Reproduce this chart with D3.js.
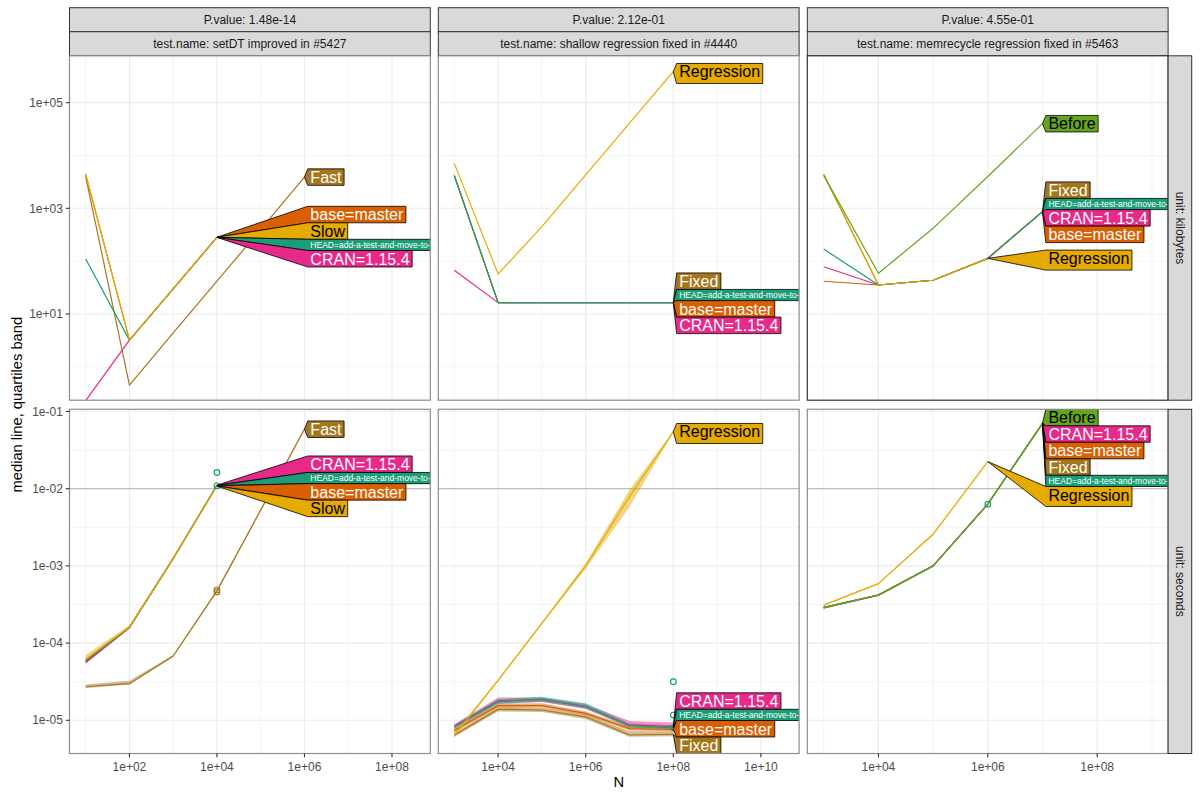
<!DOCTYPE html>
<html><head><meta charset="utf-8">
<script src="https://cdn.jsdelivr.net/npm/d3@7"></script>
<style>
body{margin:0;background:#fff}
svg{display:block}
text{font-family:"Liberation Sans",Arial,Helvetica,sans-serif}
</style>
</head><body>
<svg id="c" width="1200" height="800"></svg>
<script>
// ---------------- DATA ----------------
const testNames = ["setDT improved in #5427", "shallow regression fixed in #4440", "memrecycle regression fixed in #5463"];
const pValues = ["1.48e-14", "2.12e-01", "4.55e-01"];
const units = ["kilobytes", "seconds"];
const HEAD = "HEAD=add-a-test-and-move-to-";
const xTickLabels = [["1e+02","1e+04","1e+06","1e+08"],["1e+04","1e+06","1e+08","1e+10"],["1e+04","1e+06","1e+08"]];
const yTickLabelsKB = ["1e+01","1e+03","1e+05"];
const yTickLabelsSec = ["1e-05","1e-04","1e-03","1e-02","1e-01"];
const secondsLimit = 0.01;

// test 1: setDT improved in #5427
const setdtN = [1e1, 1e2, 1e3, 1e4];
const setdtFastN = [1e1, 1e2, 1e3, 1e4, 1e5, 1e6];
const setdtKbCran = [0.23, 3.2, 30, 281];
const setdtKbBase = [4400, 3.2, 30, 284];
const setdtKbFast = [4000, 0.45, 4.4, 42, 400, 3900];
const setdtKbHead = [110, 3.2, 30, 282];
const setdtKbSlow = [4450, 3.2, 30, 283];
const setdtSecCran = [5.6e-5, 1.58e-4, 1.24e-3, 0.0111];
const setdtSecCranQ1 = [5.4e-5, 1.55e-4, 1.22e-3, 0.0109];
const setdtSecCranQ3 = [5.9e-5, 1.62e-4, 1.27e-3, 0.0113];
const setdtSecBase = [5.9e-5, 1.6e-4, 1.25e-3, 0.0109];
const setdtSecBaseQ1 = [5.7e-5, 1.57e-4, 1.23e-3, 0.0107];
const setdtSecBaseQ3 = [6.3e-5, 1.64e-4, 1.28e-3, 0.0111];
const setdtSecFast = [2.72e-5, 2.98e-5, 6.8e-5, 4.75e-4, 5.3e-3, 0.0589];
const setdtSecFastQ1 = [2.62e-5, 2.9e-5, 6.6e-5, 4.6e-4, 5.1e-3, 0.057];
const setdtSecFastQ3 = [2.9e-5, 3.25e-5, 7.0e-5, 4.9e-4, 5.5e-3, 0.061];
const setdtSecHead = [5.8e-5, 1.6e-4, 1.25e-3, 0.0110];
const setdtSecHeadQ1 = [5.6e-5, 1.57e-4, 1.23e-3, 0.0108];
const setdtSecHeadQ3 = [6.1e-5, 1.63e-4, 1.27e-3, 0.0112];
const setdtSecSlow = [6.2e-5, 1.62e-4, 1.25e-3, 0.0108];
const setdtSecSlowQ1 = [5.9e-5, 1.58e-4, 1.22e-3, 0.0106];
const setdtSecSlowQ3 = [7.0e-5, 1.7e-4, 1.3e-3, 0.0111];
const setdtPtExpr = [HEAD, HEAD, "Fast", "Fast"];
const setdtPtN = [1e4, 1e4, 1e4, 1e4];
const setdtPtSec = [0.0162, 0.0109, 4.9e-4, 4.6e-4];

// test 2: shallow regression fixed in #4440
const shallowN = [1e3, 1e4, 1e5, 1e6, 1e7, 1e8];
const shallowKbCran = [67, 16.4, 16.4, 16.4, 16.4, 16.40];
const shallowKbBase = [4170, 16.4, 16.4, 16.4, 16.4, 16.41];
const shallowKbFixed = [4170, 16.4, 16.4, 16.4, 16.4, 16.43];
const shallowKbHead = [4170, 16.4, 16.4, 16.4, 16.4, 16.42];
const shallowKbRegression = [7100, 57, 450, 4300, 41000, 385000];
const shallowSecCran = [8.4e-6, 1.78e-5, 1.85e-5, 1.5e-5, 8.7e-6, 8.3e-6];
const shallowSecCranQ1 = [7.9e-6, 1.65e-5, 1.72e-5, 1.4e-5, 8.1e-6, 7.8e-6];
const shallowSecCranQ3 = [8.9e-6, 1.98e-5, 1.98e-5, 1.62e-5, 9.8e-6, 9.4e-6];
const shallowSecBase = [7.4e-6, 1.55e-5, 1.55e-5, 1.23e-5, 7.8e-6, 7.6e-6];
const shallowSecBaseQ1 = [7.0e-6, 1.48e-5, 1.48e-5, 1.17e-5, 7.4e-6, 7.2e-6];
const shallowSecBaseQ3 = [7.9e-6, 1.65e-5, 1.66e-5, 1.3e-5, 8.3e-6, 8.1e-6];
const shallowSecFixed = [6.4e-6, 1.39e-5, 1.36e-5, 1.11e-5, 6.45e-6, 6.6e-6];
const shallowSecFixedQ1 = [6.1e-6, 1.3e-5, 1.28e-5, 1.04e-5, 6.1e-6, 6.2e-6];
const shallowSecFixedQ3 = [6.9e-6, 1.5e-5, 1.47e-5, 1.2e-5, 7.2e-6, 7.2e-6];
const shallowSecHead = [8.2e-6, 1.75e-5, 1.88e-5, 1.52e-5, 8.5e-6, 8.0e-6];
const shallowSecHeadQ1 = [7.8e-6, 1.63e-5, 1.74e-5, 1.42e-5, 8.0e-6, 7.6e-6];
const shallowSecHeadQ3 = [8.7e-6, 1.88e-5, 2.02e-5, 1.66e-5, 9.1e-6, 8.6e-6];
const shallowSecRegression = [6.4e-6, 3.3e-5, 1.8e-4, 1.0e-3, 7.9e-3, 0.0547];
const shallowSecRegressionQ1 = [6.0e-6, 3.2e-5, 1.75e-4, 9.2e-4, 5.8e-3, 0.053];
const shallowSecRegressionQ3 = [6.9e-6, 3.4e-5, 1.87e-4, 1.08e-3, 9.6e-3, 0.056];
const shallowPtExpr = [HEAD, HEAD, HEAD];
const shallowPtN = [1e8, 1e8, 1e8];
const shallowPtSec = [3.16e-5, 1.17e-5, 8.0e-6];

// test 3: memrecycle regression fixed in #5463
const memN = [1e3, 1e4, 1e5, 1e6, 1e7];
const memRegN = [1e3, 1e4, 1e5, 1e6];
const memKbCran = [78.5, 35.4, 43.5, 113, 866];
const memKbBase = [41.6, 35.4, 43.5, 113, 865];
const memKbFixed = [4300, 35.4, 43.5, 113, 868];
const memKbHead = [170, 35.4, 43.5, 113, 867];
const memKbRegression = [4470, 35.4, 43.5, 113];
const memKbBefore = [4200, 59, 418, 4000, 40000];
const memSecCran = [2.85e-4, 4.15e-4, 1.0e-3, 6.3e-3, 0.0703];
const memSecCranQ1 = [2.8e-4, 4.1e-4, 0.98e-3, 6.2e-3, 0.0695];
const memSecCranQ3 = [2.95e-4, 4.25e-4, 1.02e-3, 6.4e-3, 0.071];
const memSecBase = [2.85e-4, 4.2e-4, 1.0e-3, 6.35e-3, 0.0701];
const memSecBaseQ1 = [2.8e-4, 4.1e-4, 0.98e-3, 6.25e-3, 0.0695];
const memSecBaseQ3 = [2.9e-4, 4.3e-4, 1.02e-3, 6.45e-3, 0.0708];
const memSecFixed = [2.9e-4, 4.2e-4, 1.0e-3, 6.3e-3, 0.0699];
const memSecFixedQ1 = [2.85e-4, 4.15e-4, 0.99e-3, 6.2e-3, 0.069];
const memSecFixedQ3 = [2.95e-4, 4.25e-4, 1.01e-3, 6.4e-3, 0.0705];
const memSecHead = [2.88e-4, 4.2e-4, 1.0e-3, 6.3e-3, 0.0697];
const memSecHeadQ1 = [2.83e-4, 4.15e-4, 0.99e-3, 6.2e-3, 0.069];
const memSecHeadQ3 = [2.93e-4, 4.25e-4, 1.01e-3, 6.4e-3, 0.0705];
const memSecRegression = [3.1e-4, 5.9e-4, 2.57e-3, 0.0224];
const memSecRegressionQ1 = [3.05e-4, 5.8e-4, 2.5e-3, 0.022];
const memSecRegressionQ3 = [3.15e-4, 6.0e-4, 2.65e-3, 0.0228];
const memSecBefore = [2.9e-4, 4.2e-4, 1.0e-3, 6.3e-3, 0.0705];
const memSecBeforeQ1 = [2.85e-4, 4.1e-4, 0.98e-3, 6.2e-3, 0.0698];
const memSecBeforeQ3 = [2.95e-4, 4.3e-4, 1.02e-3, 6.4e-3, 0.0712];
const memPtExpr = [HEAD];
const memPtN = [1e6];
const memPtSec = [6.3e-3];

// ---------------- STYLE ----------------
const exprColor = {"CRAN=1.15.4":"#E7298A","base=master":"#D95F02","Fixed":"#A6761D","Fast":"#A6761D",
  [HEAD]:"#1B9E77","Slow":"#E6AB02","Regression":"#E6AB02","Before":"#66A61E"};
const exprText = {"CRAN=1.15.4":"#fff","base=master":"#fff","Fixed":"#fff","Fast":"#fff",
  [HEAD]:"#fff","Slow":"#000","Regression":"#000","Before":"#000"};

// assemble (draw order: first drawn first)
const tests = [
 {name:testNames[0], p:pValues[0], series:[
   {expr:"CRAN=1.15.4", N:setdtN, kb:setdtKbCran, sec:setdtSecCran, q1:setdtSecCranQ1, q3:setdtSecCranQ3},
   {expr:"base=master", N:setdtN, kb:setdtKbBase, sec:setdtSecBase, q1:setdtSecBaseQ1, q3:setdtSecBaseQ3},
   {expr:"Fast", N:setdtFastN, kb:setdtKbFast, sec:setdtSecFast, q1:setdtSecFastQ1, q3:setdtSecFastQ3},
   {expr:HEAD, N:setdtN, kb:setdtKbHead, sec:setdtSecHead, q1:setdtSecHeadQ1, q3:setdtSecHeadQ3},
   {expr:"Slow", N:setdtN, kb:setdtKbSlow, sec:setdtSecSlow, q1:setdtSecSlowQ1, q3:setdtSecSlowQ3}],
  pts:{expr:setdtPtExpr, N:setdtPtN, sec:setdtPtSec}},
 {name:testNames[1], p:pValues[1], series:[
   {expr:"CRAN=1.15.4", N:shallowN, kb:shallowKbCran, sec:shallowSecCran, q1:shallowSecCranQ1, q3:shallowSecCranQ3},
   {expr:"base=master", N:shallowN, kb:shallowKbBase, sec:shallowSecBase, q1:shallowSecBaseQ1, q3:shallowSecBaseQ3},
   {expr:"Fixed", N:shallowN, kb:shallowKbFixed, sec:shallowSecFixed, q1:shallowSecFixedQ1, q3:shallowSecFixedQ3},
   {expr:HEAD, N:shallowN, kb:shallowKbHead, sec:shallowSecHead, q1:shallowSecHeadQ1, q3:shallowSecHeadQ3},
   {expr:"Regression", N:shallowN, kb:shallowKbRegression, sec:shallowSecRegression, q1:shallowSecRegressionQ1, q3:shallowSecRegressionQ3}],
  pts:{expr:shallowPtExpr, N:shallowPtN, sec:shallowPtSec}},
 {name:testNames[2], p:pValues[2], series:[
   {expr:"CRAN=1.15.4", N:memN, kb:memKbCran, sec:memSecCran, q1:memSecCranQ1, q3:memSecCranQ3},
   {expr:"base=master", N:memN, kb:memKbBase, sec:memSecBase, q1:memSecBaseQ1, q3:memSecBaseQ3},
   {expr:"Fixed", N:memN, kb:memKbFixed, sec:memSecFixed, q1:memSecFixedQ1, q3:memSecFixedQ3},
   {expr:HEAD, N:memN, kb:memKbHead, sec:memSecHead, q1:memSecHeadQ1, q3:memSecHeadQ3},
   {expr:"Regression", N:memRegN, kb:memKbRegression, sec:memSecRegression, q1:memSecRegressionQ1, q3:memSecRegressionQ3},
   {expr:"Before", N:memN, kb:memKbBefore, sec:memSecBefore, q1:memSecBeforeQ1, q3:memSecBeforeQ3}],
  pts:{expr:memPtExpr, N:memPtN, sec:memPtSec}}
];

// ---------------- LAYOUT ----------------
const colX = [[69.5,430.3],[438.3,799.1],[807.3,1168.1]];
const rowY = [[55.8,400.2],[409.3,753.5]];
const xExp = [[0.630,8.876],[2.635,10.872],[2.700,9.296]];
const yExp = [[-0.632,5.887],[-5.430,-0.972]];
const xScales = colX.map((r,i)=>d3.scaleLog().domain([10**xExp[i][0],10**xExp[i][1]]).range(r));
const yScales = rowY.map((r,i)=>d3.scaleLog().domain([10**yExp[i][0],10**yExp[i][1]]).range([r[1],r[0]]));

const svg = d3.select("#c");
const gridCol = "#EBEBEB", dark = "#333333";
const FS = 12;

function expsIn(lo,hi,step,start){const a=[];for(let e=Math.ceil((lo-start)/step)*step+start;e<=hi+1e-9;e+=step)a.push(+e.toFixed(3));return a;}

const defs = svg.append("defs");

tests.forEach((t,ci)=>{
  const [x0,x1]=colX[ci], xs=xScales[ci];
  // strips
  [[7.7,"P.value: "+t.p],[31.7,"test.name: "+t.name]].forEach(([sy,txt])=>{
    svg.append("rect").attr("x",x0).attr("y",sy).attr("width",x1-x0).attr("height",24)
      .attr("fill","#D9D9D9").attr("stroke",dark).attr("stroke-width",1);
    svg.append("text").attr("x",(x0+x1)/2).attr("y",sy+12+4.2).attr("text-anchor","middle")
      .attr("font-size",FS).attr("fill","#1A1A1A").text(txt);
  });
  units.forEach((u,ri)=>{
    const [y0,y1]=rowY[ri], ys=yScales[ri];
    const field = ri===0?"kb":"sec";
    const id="clip"+ci+"_"+ri;
    defs.append("clipPath").attr("id",id).append("rect").attr("x",x0).attr("y",y0).attr("width",x1-x0).attr("height",y1-y0);
    const g = svg.append("g");
    g.append("rect").attr("x",x0).attr("y",y0).attr("width",x1-x0).attr("height",y1-y0).attr("fill","#fff");
    const pg = g.append("g").attr("clip-path","url(#"+id+")");
    // grid
    const xMinor = expsIn(xExp[ci][0],xExp[ci][1],2,1), xMajor=expsIn(xExp[ci][0],xExp[ci][1],2,0);
    let yMinor, yMajor;
    if(ri===0){yMinor=expsIn(yExp[0][0],yExp[0][1],2,0); yMajor=expsIn(yExp[0][0],yExp[0][1],2,1);}
    else {yMinor=expsIn(yExp[1][0],yExp[1][1],1,0.5); yMajor=expsIn(yExp[1][0],yExp[1][1],1,0);}
    yMinor.forEach(e=>pg.append("line").attr("x1",x0).attr("x2",x1).attr("y1",ys(10**e)).attr("y2",ys(10**e)).attr("stroke",gridCol).attr("stroke-width",0.55));
    xMinor.forEach(e=>pg.append("line").attr("y1",y0).attr("y2",y1).attr("x1",xs(10**e)).attr("x2",xs(10**e)).attr("stroke",gridCol).attr("stroke-width",0.55));
    yMajor.forEach(e=>pg.append("line").attr("x1",x0).attr("x2",x1).attr("y1",ys(10**e)).attr("y2",ys(10**e)).attr("stroke",gridCol).attr("stroke-width",1.1));
    xMajor.forEach(e=>pg.append("line").attr("y1",y0).attr("y2",y1).attr("x1",xs(10**e)).attr("x2",xs(10**e)).attr("stroke",gridCol).attr("stroke-width",1.1));
    if(ri===1){
      pg.append("line").attr("x1",x0).attr("x2",x1).attr("y1",ys(secondsLimit)).attr("y2",ys(secondsLimit)).attr("stroke","#BEBEBE").attr("stroke-width",1.1);
      // ribbons
      t.series.forEach(s=>{
        const pts=s.N.map((n,i)=>({n,lo:s.q1[i],hi:s.q3[i]}));
        pg.append("path").attr("d",d3.area().x(d=>xs(d.n)).y0(d=>ys(d.lo)).y1(d=>ys(d.hi))(pts))
          .attr("fill",exprColor[s.expr]).attr("fill-opacity",0.5);
      });
    }
    // lines
    t.series.forEach(s=>{
      const pts=s.N.map((n,i)=>({n,v:s[field][i]}));
      pg.append("path").attr("d",d3.line().x(d=>xs(d.n)).y(d=>ys(d.v))(pts))
        .attr("fill","none").attr("stroke",exprColor[s.expr]).attr("stroke-width",1.2).attr("stroke-linejoin","round");
    });
    if(ri===1){
      t.pts.N.forEach((n,i)=>{
        pg.append("circle").attr("cx",xs(n)).attr("cy",ys(t.pts.sec[i])).attr("r",2.8)
          .attr("fill","none").attr("stroke",exprColor[t.pts.expr[i]]).attr("stroke-width",1.2);
      });
    }
    // direct labels
    const items = t.series.map(s=>{
      const k=s.N.length-1, v=s[field][k];
      const fs = s.expr===HEAD?8.5:16;
      const hc = s.expr===HEAD?11.2:16.5;
      return {s, v, tx:xs(s.N[k]), ty:ys(v), fs, hc, hd:/[gjpqy]/.test(s.expr)?0.22*fs:0};
    });
    items.sort((a,b)=>a.ty-b.ty || b.v-a.v);
    let groups = items.map(it=>({its:[it]}));
    const solve = gr=>{let cum=0,sum=0;gr.its.forEach(it=>{sum+=(it.ty-it.hc/2)-cum;cum+=it.hc+it.hd;});
      gr.H=cum; gr.T=sum/gr.its.length; if(gr.T<y0)gr.T=y0; if(gr.T+gr.H>y1)gr.T=y1-gr.H;};
    groups.forEach(solve);
    let changed=true;
    while(changed){changed=false;
      for(let i=0;i<groups.length-1;i++){const a=groups[i],b=groups[i+1];
        if(a.T+a.H>b.T+0.01){a.its=a.its.concat(b.its);groups.splice(i+1,1);solve(a);changed=true;break;}}}
    groups.forEach(gr=>{let c=gr.T;gr.its.forEach(it=>{it.top=c;it.bot=c+it.hc+it.hd;c=it.bot;});});
    const bl = d3.max(items,d=>d.tx)+3.3;
    const lg = pg.append("g");
    items.forEach(it=>{
      const poly = lg.append("path");
      const tx = lg.append("text").attr("x",bl+2.6).attr("y",it.top+(it.hc-0.72*it.fs)/2+0.72*it.fs)
        .attr("font-size",it.fs).attr("fill",exprText[it.s.expr]).text(it.s.expr);
      const br = bl + tx.node().getComputedTextLength()+5.2;
      poly.attr("d",`M${it.tx},${it.ty}L${bl},${it.top}L${br},${it.top}L${br},${it.bot}L${bl},${it.bot}Z`)
        .attr("fill",exprColor[it.s.expr]).attr("stroke","#000").attr("stroke-width",0.8).attr("stroke-linejoin","miter");
    });
    // border (the memrecycle kilobytes panel is drawn darker, as in the source)
    const hl = (ci===2 && ri===0);
    g.append("rect").attr("x",x0).attr("y",y0).attr("width",x1-x0).attr("height",y1-y0)
      .attr("fill","none").attr("stroke",hl?dark:"#8C8C8C").attr("stroke-width",hl?1.2:1.2);
    // right strips
    if(ci===2){
      svg.append("rect").attr("x",x1).attr("y",y0).attr("width",23.6).attr("height",y1-y0)
        .attr("fill","#D9D9D9").attr("stroke",dark).attr("stroke-width",1);
      svg.append("text").attr("transform",`translate(${x1+11.8-4.2},${(y0+y1)/2}) rotate(90)`)
        .attr("text-anchor","middle").attr("font-size",FS).attr("fill","#1A1A1A").text("unit: "+u);
    }
    // y axis
    if(ci===0){
      const labs = ri===0?yTickLabelsKB:yTickLabelsSec;
      labs.forEach(l=>{const v=+l, yy=ys(v);
        svg.append("line").attr("x1",x0-3.7).attr("x2",x0).attr("y1",yy).attr("y2",yy).attr("stroke",dark).attr("stroke-width",1.1);
        svg.append("text").attr("x",x0-6.6).attr("y",yy+4.2).attr("text-anchor","end").attr("font-size",FS).attr("fill","#4D4D4D").text(l);
      });
    }
    // x axis
    if(ri===1){
      xTickLabels[ci].forEach(l=>{const v=+l, xx=xs(v);
        svg.append("line").attr("x1",xx).attr("x2",xx).attr("y1",y1).attr("y2",y1+3.7).attr("stroke",dark).attr("stroke-width",1.1);
        svg.append("text").attr("x",xx).attr("y",y1+17).attr("text-anchor","middle").attr("font-size",FS).attr("fill","#4D4D4D").text(l);
      });
    }
  });
});
// axis titles
svg.append("text").attr("transform",`translate(${22},${(rowY[0][0]+rowY[1][1])/2}) rotate(-90)`)
  .attr("text-anchor","middle").attr("font-size",14.7).attr("fill","#000").text("median line, quartiles band");
svg.append("text").attr("x",(colX[0][0]+colX[2][1])/2).attr("y",787).attr("text-anchor","middle")
  .attr("font-size",14.7).attr("fill","#000").text("N");
</script>
</body></html>
